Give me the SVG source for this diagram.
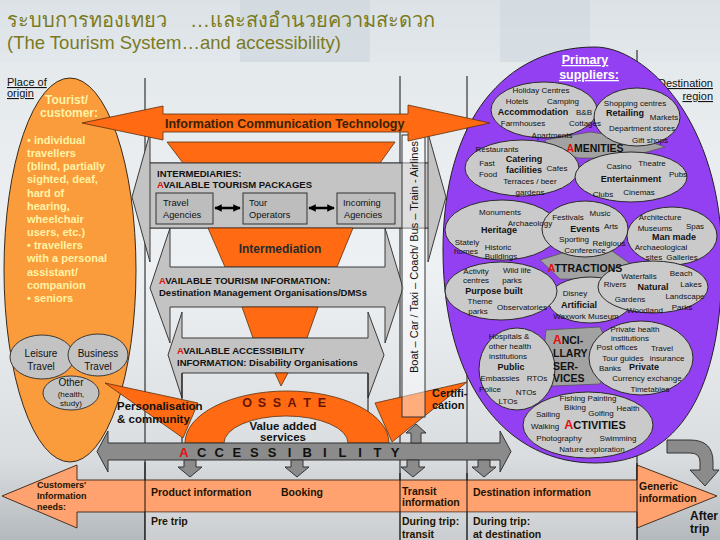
<svg xmlns="http://www.w3.org/2000/svg" width="720" height="540" viewBox="0 0 720 540">
<defs>
<linearGradient id="bg" x1="0" y1="0" x2="0" y2="1">
<stop offset="0" stop-color="#d3dbe0"/>
<stop offset="0.1" stop-color="#e4e9ec"/>
<stop offset="0.5" stop-color="#eef1f3"/>
<stop offset="0.85" stop-color="#d9dde0"/>
<stop offset="1" stop-color="#b4b9bd"/>
</linearGradient>
<marker id="ah" viewBox="0 0 10 10" refX="9" refY="5" markerWidth="3" markerHeight="3" orient="auto-start-reverse"><path d="M0,0 L10,5 L0,10 z" fill="#000"/></marker>
<style>
text{font-family:"Liberation Sans",Arial,sans-serif}
.s{font-size:8px;fill:#111;text-anchor:middle}
.sb{font-size:9px;font-weight:bold;fill:#111;text-anchor:middle}
.cat{font-size:10.5px;font-weight:bold;fill:#111;text-anchor:middle}
.r{fill:#e01010}
.ell{fill:#cacaca;stroke:#2a2a2a;stroke-width:1}
.dk{fill:#a2a2a2;stroke:#555;stroke-width:0.8}
.or{fill:#ff6a13;stroke:#5a3010;stroke-width:0.8}
.gr{fill:#c3c3c3;stroke:#3a3a3a;stroke-width:1}
.gbar{fill:#8b8b8b;stroke:#333;stroke-width:1}
.mid{font-size:9.5px;font-weight:bold;fill:#111}
.box{font-size:9.3px;fill:#111}
.tl{font-size:10.5px;font-weight:bold;fill:#241400}
.yel{font-size:11px;font-weight:bold;fill:#fff4a6}
.sm{font-size:10px;fill:#111;text-anchor:middle}
.ln{stroke:#111;stroke-width:1}
</style>
</defs>
<rect width="720" height="540" fill="url(#bg)"/>
<rect x="0" y="0" width="720" height="62" fill="#dfe6ea" opacity="0.7"/>
<rect x="240" y="0" width="130" height="62" fill="#c9d3da" opacity="0.5"/>
<rect x="500" y="0" width="90" height="62" fill="#c9d3da" opacity="0.4"/>

<g id="title">
<text x="7" y="27" font-family="'Noto Sans Thai','Noto Sans','DejaVu Sans',sans-serif" font-size="20" fill="#7b7a1e">ระบบการทองเทยว<tspan x="190">…และสงอำนวยความสะดวก</tspan></text>
<text x="7" y="49" font-size="18.5" fill="#7b7a1e">(The Tourism System…and accessibility)</text>
</g>

<g id="frame-lines" class="ln">
<line x1="145" y1="78" x2="145" y2="540"/>
<line x1="400" y1="76" x2="400" y2="540"/>
<line x1="467" y1="76" x2="467" y2="540"/>
<line x1="637" y1="50" x2="637" y2="540"/>
</g>

<g id="origin-label">
<text x="7" y="86" font-size="11" fill="#111" text-decoration="underline">Place of</text>
<text x="7" y="97" font-size="11" fill="#111" text-decoration="underline">origin</text>
</g>

<g id="tourist">
<ellipse cx="70" cy="270" rx="66" ry="192" fill="#fa9b3c" stroke="#3a2a1a"/>
<text x="45" y="104" font-size="12" font-weight="bold" fill="#fff4a6">Tourist/</text>
<text x="40" y="117" font-size="12" font-weight="bold" fill="#fff4a6">customer:</text>
<text class="yel" x="27" y="144">• individual</text>
<text class="yel" x="27" y="157">travellers</text>
<text class="yel" x="27" y="170">(blind, partially</text>
<text class="yel" x="27" y="183">sighted, deaf,</text>
<text class="yel" x="27" y="197">hard of</text>
<text class="yel" x="27" y="210">hearing,</text>
<text class="yel" x="27" y="223">wheelchair</text>
<text class="yel" x="27" y="236">users, etc.)</text>
<text class="yel" x="27" y="249">• travellers</text>
<text class="yel" x="27" y="262">with a personal</text>
<text class="yel" x="27" y="276">assistant/</text>
<text class="yel" x="27" y="289">companion</text>
<text class="yel" x="27" y="302">• seniors</text>
</g>
<g id="leisure"><ellipse class="gr" cx="42" cy="357" rx="32" ry="22"/><text class="sm" x="41" y="357">Leisure</text><text class="sm" x="41" y="370">Travel</text></g>
<g id="business"><ellipse class="gr" cx="98" cy="355" rx="30" ry="21"/><text class="sm" x="98" y="357">Business</text><text class="sm" x="98" y="370">Travel</text></g>
<g id="other"><ellipse class="gr" cx="71" cy="393" rx="28" ry="17"/><text class="sm" x="71" y="386">Other</text><text class="s" x="71" y="397">(health,</text><text class="s" x="71" y="406">study)</text></g>

<g id="destination-label">
<text x="713" y="87" font-size="11" fill="#111" text-anchor="end" text-decoration="underline">Destination</text>
<text x="713" y="100" font-size="11" fill="#111" text-anchor="end" text-decoration="underline">region</text>
</g>

<g id="primary-suppliers">
<path d="M595,47 C505,47 443,120 443,250 C443,390 510,463 595,463 C680,463 722,390 722,260 C722,120 645,47 595,47 Z" fill="#9340f2" stroke="#222"/>
<text x="585" y="64" font-size="12.5" font-weight="bold" fill="#fff" text-anchor="middle" text-decoration="underline">Primary</text>
<text x="589" y="79" font-size="12.5" font-weight="bold" fill="#fff" text-anchor="middle" text-decoration="underline">suppliers:</text>
</g>

<g id="amenities">
<polygon class="dk" points="545,140 590,132 645,140 665,147 625,158 578,158 548,148"/>
<ellipse class="ell" cx="544" cy="110" rx="53" ry="28"/>
<ellipse class="ell" cx="637" cy="117" rx="43" ry="29"/>
<ellipse class="ell" cx="522" cy="168" rx="57" ry="28"/>
<ellipse class="ell" cx="631" cy="177" rx="56" ry="25"/>
<text class="s" x="541" y="93">Holiday Centres</text>
<text class="s" x="517" y="104">Hotels</text>
<text class="s" x="563" y="104">Camping</text>
<text class="sb" x="533" y="115">Accommodation</text>
<text class="s" x="584" y="115">B&amp;B</text>
<text class="s" x="523" y="126">Farmhouses</text>
<text class="s" x="585" y="126">Cottages</text>
<text class="s" x="552" y="138">Apartments</text>
<text class="s" x="635" y="106">Shopping centres</text>
<text class="sb" x="625" y="116">Retailing</text>
<text class="s" x="664" y="120">Markets</text>
<text class="s" x="642" y="131">Department stores</text>
<text class="s" x="650" y="143">Gift shops</text>
<text class="cat" x="595" y="152"><tspan class="r">A</tspan>MENITIES</text>
<text class="s" x="497" y="152">Restaurants</text>
<text class="s" x="487" y="166">Fast</text>
<text class="s" x="488" y="177">Food</text>
<text class="sb" x="524" y="162">Catering</text>
<text class="sb" x="524" y="173">facilities</text>
<text class="s" x="557" y="171">Cafes</text>
<text class="s" x="530" y="184">Terraces / beer</text>
<text class="s" x="530" y="195">gardens</text>
<text class="s" x="619" y="169">Casino</text>
<text class="s" x="652" y="166">Theatre</text>
<text class="s" x="678" y="177">Pubs</text>
<text class="sb" x="631" y="182">Entertainment</text>
<text class="s" x="603" y="197">Clubs</text>
<text class="s" x="639" y="195">Cinemas</text>
</g>

<g id="attractions">
<polygon class="dk" points="540,260 575,249 612,251 632,265 612,279 560,279"/>
<ellipse class="ell" cx="502" cy="230" rx="57" ry="30"/>
<ellipse class="ell" cx="585" cy="229" rx="43" ry="28"/>
<ellipse class="ell" cx="672" cy="236" rx="45" ry="29"/>
<ellipse class="ell" cx="590" cy="300" rx="42" ry="23"/>
<ellipse class="ell" cx="501" cy="291" rx="56" ry="29"/>
<ellipse class="ell" cx="653" cy="287" rx="55" ry="26"/>
<text class="s" x="500" y="215">Monuments</text>
<text class="s" x="530" y="226">Archaeology</text>
<text class="sb" x="499" y="233">Heritage</text>
<text class="s" x="467" y="245">Stately</text>
<text class="s" x="466" y="254">homes</text>
<text class="s" x="498" y="250">Historic</text>
<text class="s" x="501" y="259">Buildings</text>
<text class="s" x="568" y="220">Festivals</text>
<text class="s" x="600" y="216">Music</text>
<text class="sb" x="585" y="232">Events</text>
<text class="s" x="611" y="229">Arts</text>
<text class="s" x="574" y="242">Sporting</text>
<text class="s" x="609" y="246">Religious</text>
<text class="s" x="585" y="253">Conference</text>
<text class="s" x="660" y="220">Architecture</text>
<text class="s" x="655" y="231">Museums</text>
<text class="s" x="695" y="229">Spas</text>
<text class="sb" x="674" y="240">Man made</text>
<text class="s" x="661" y="250">Archaeological</text>
<text class="s" x="654" y="260">sites</text>
<text class="s" x="682" y="260">Galleries</text>
<text class="cat" x="585" y="272"><tspan class="r">A</tspan>TTRACTIONS</text>
<text class="s" x="476" y="274">Activity</text>
<text class="s" x="476" y="283">centres</text>
<text class="s" x="517" y="273">Wild life</text>
<text class="s" x="512" y="283">parks</text>
<text class="sb" x="494" y="294">Purpose built</text>
<text class="s" x="480" y="304">Theme</text>
<text class="s" x="478" y="314">parks</text>
<text class="s" x="522" y="310">Observatories</text>
<text class="s" x="575" y="296">Disney</text>
<text class="sb" x="579" y="308">Artificial</text>
<text class="s" x="586" y="319">Waxwork Museum</text>
<text class="s" x="639" y="279">Waterfalls</text>
<text class="s" x="681" y="276">Beach</text>
<text class="s" x="615" y="287">Rivers</text>
<text class="sb" x="653" y="290">Natural</text>
<text class="s" x="691" y="287">Lakes</text>
<text class="s" x="630" y="302">Gardens</text>
<text class="s" x="685" y="299">Landscape</text>
<text class="s" x="645" y="313">Woodland</text>
<text class="s" x="682" y="310">Parks</text>
</g>

<g id="ancillary">
<polygon class="dk" points="546,330 600,327 608,345 600,384 552,386 543,360"/>
<ellipse class="ell" cx="517" cy="369" rx="38" ry="41"/>
<ellipse class="ell" cx="641" cy="358" rx="52" ry="37"/>
<ellipse class="ell" cx="588" cy="425" rx="65" ry="33"/>
<text class="s" x="509" y="339">Hospitals &amp;</text>
<text class="s" x="510" y="349">other health</text>
<text class="s" x="508" y="359">institutions</text>
<text class="sb" x="511" y="370">Public</text>
<text class="s" x="500" y="381">Embassies</text>
<text class="s" x="537" y="381">RTOs</text>
<text class="s" x="490" y="392">Police</text>
<text class="s" x="526" y="395">NTOs</text>
<text class="s" x="508" y="404">LTOs</text>
<text x="553" y="344" font-size="10.5" font-weight="bold" fill="#111"><tspan class="r" font-size="12">A</tspan>NCI-</text>
<text x="553" y="357" font-size="10.5" font-weight="bold" fill="#111">LLARY</text>
<text x="553" y="370" font-size="10.5" font-weight="bold" fill="#111">SER-</text>
<text x="553" y="382" font-size="10.5" font-weight="bold" fill="#111">VICES</text>
<text class="s" x="635" y="332">Private health</text>
<text class="s" x="630" y="341">institutions</text>
<text class="s" x="617" y="350">Post offices</text>
<text class="s" x="662" y="351">Travel</text>
<text class="s" x="623" y="361">Tour guides</text>
<text class="s" x="667" y="361">insurance</text>
<text class="s" x="610" y="371">Banks</text>
<text class="sb" x="644" y="370">Private</text>
<text class="s" x="647" y="381">Currency exchange</text>
<text class="s" x="650" y="392">Timetables</text>
<text class="s" x="588" y="401">Fishing Painting</text>
<text class="s" x="575" y="410">Biking</text>
<text class="s" x="601" y="416">Golfing</text>
<text class="s" x="628" y="411">Health</text>
<text class="s" x="548" y="417">Sailing</text>
<text class="s" x="545" y="429">Walking</text>
<text x="595" y="429" font-size="11" font-weight="bold" fill="#111" text-anchor="middle"><tspan class="r" font-size="12.5">A</tspan>CTIVITIES</text>
<text class="s" x="559" y="441">Photography</text>
<text class="s" x="618" y="441">Swimming</text>
<text class="s" x="592" y="452">Nature exploration</text>
</g>

<g id="intermediaries">
<polygon class="gr" points="132,197 150,133 150,163 428,163 428,133 446,197 428,262 428,228 150,228 150,262"/>
<polygon class="or" points="167,142 395,142 380,163 183,163"/>
<rect x="150" y="163" width="278" height="65" fill="#c4c4c4" stroke="#3a3a3a"/>
<text class="mid" x="157" y="177">INTERMEDIARIES:</text>
<text class="mid" x="157" y="188"><tspan class="r">A</tspan>VAILABLE TOURISM PACKAGES</text>
</g>
<g id="travel-agencies"><rect x="156" y="193" width="57" height="31" fill="#bdbdbd" stroke="#333"/><text class="box" x="163" y="206">Travel</text><text class="box" x="163" y="218">Agencies</text></g>
<g id="tour-operators"><rect x="243" y="193" width="64" height="31" fill="#bdbdbd" stroke="#333"/><text class="box" x="249" y="206">Tour</text><text class="box" x="249" y="218">Operators</text></g>
<g id="incoming-agencies"><rect x="337" y="193" width="58" height="31" fill="#bdbdbd" stroke="#333"/><text class="box" x="343" y="206">Incoming</text><text class="box" x="344" y="218">Agencies</text></g>

<g id="intermediation">
<polygon class="or" points="208,228 353,228 337,267 225,267"/>
<text x="280" y="253" font-size="12" font-weight="bold" fill="#2a2a2a" text-anchor="middle">Intermediation</text>
</g>

<g id="tourism-information">
<polygon class="gr" points="150,288 170,228 170,267 385,267 385,228 403,288 385,343 385,307 170,307 170,343"/>
<text class="mid" x="159" y="284"><tspan class="r">A</tspan>VAILABLE TOURISM INFORMATION:</text>
<text class="mid" x="159" y="296">Destination Management Organisations/DMSs</text>
</g>
<polygon class="or" points="242,307 318,307 307,338 253,338"/>

<g id="accessibility-information">
<polygon class="gr" points="168,355 182,312 182,338 368,338 368,312 384,355 368,398 368,373 182,373 182,398"/>
<text class="mid" x="177" y="354"><tspan class="r">A</tspan>VAILABLE ACCESSIBILITY</text>
<text class="mid" x="177" y="366">INFORMATION: Disability Organisations</text>
</g>
<polygon class="or" points="275,373 288,373 281,386"/>
<g class="ln"><line x1="182" y1="373" x2="182" y2="443"/><line x1="368" y1="373" x2="368" y2="443"/></g>

<g id="ossate">
<path class="or" d="M185,443 A102,52 0 0 1 389,443 L348,443 A62,27 0 0 0 224,443 Z"/>
<text font-size="12.5" font-weight="bold" fill="#6a1500" text-anchor="middle" x="247 254.5 262 269.5 277 284.5 292 299.5 307 314.5 322" y="407">O S S A T E</text>
<text x="283" y="430" font-size="11.5" font-weight="bold" fill="#111" text-anchor="middle">Value added</text>
<text x="283" y="441" font-size="11.5" font-weight="bold" fill="#111" text-anchor="middle">services</text>
</g>

<g id="personalisation">
<polygon class="or" points="105,383 198,403 183,438"/>
<text x="117" y="410" font-size="11.5" font-weight="bold" fill="#111">Personalisation</text>
<text x="117" y="423" font-size="11.5" font-weight="bold" fill="#111">&amp; community</text>
</g>

<g id="certification">
<polygon class="or" points="467,382 375,403 392,442"/>
<text x="432" y="397" font-size="11" font-weight="bold" fill="#111">Certifi-</text>
<text x="432" y="409" font-size="11" font-weight="bold" fill="#111">cation</text>
</g>

<g id="transport">
<rect x="402" y="135" width="23" height="282" fill="#ffffff" fill-opacity="0.45" stroke="#333"/>
<text transform="translate(418,257) rotate(-90)" font-size="11" fill="#111" text-anchor="middle">Boat – Car / Taxi – Coach/ Bus – Train - Airlines</text>
</g>

<g id="ict">
<polygon class="or" points="82,123 163,106 163,114 408,114 408,105 490,123 408,141 408,132 163,132 163,140"/>
<text x="165" y="127.5" font-size="12.5" font-weight="bold" fill="#3a2200">Information Communication Technology</text>
</g>

<g id="accessibility">
<polygon class="gbar" points="97,451.5 108,431 108,443 500,443 500,431 511,451.5 500,472 500,460 108,460 108,472"/>
<text font-size="13" font-weight="bold" fill="#111" text-anchor="middle" x="184 192.8 201.6 210.4 219.2 228 236.8 245.6 254.4 263.2 272 280.8 289.6 298.4 307.2 316 324.8 333.6 342.4 351.2 360 368.8 377.6 386.4 395.2" y="457"><tspan class="r">A</tspan> C C E S S I B I L I T Y</text>
</g>

<g id="connectors">
<line x1="215" y1="208" x2="240" y2="208" stroke="#000" stroke-width="2.5" marker-start="url(#ah)" marker-end="url(#ah)"/>
<line x1="309" y1="208" x2="334" y2="208" stroke="#000" stroke-width="2.5" marker-start="url(#ah)" marker-end="url(#ah)"/>
<polygon class="gbar" points="184,460 196,460 196,467 202,467 190,477 178,467 184,467"/>
<polygon class="gbar" points="291,460 303,460 303,467 309,467 297,477 285,467 291,467"/>
<polygon class="gbar" points="407,460 419,460 419,467 425,467 413,477 401,467 407,467"/>
<polygon class="gbar" points="478,460 490,460 490,467 496,467 484,477 472,467 478,467"/>
<polygon class="gbar" points="416,424 426,433 421,433 421,443 411,443 411,433 406,433"/>
<path class="gbar" d="M667,440 L690,440 Q713,440 713,462 L713,470 L719,470 L705,486 L690,470 L700,470 L700,462 Q700,453 690,453 L667,453 Z"/>
</g>

<g id="timeline">
<polygon points="2,496 77,465 77,480 637,480 637,465 717,496 637,528 637,512 77,512 77,528" fill="#ffa26f" stroke="#4a3020"/>
<rect x="145" y="512" width="492" height="28" fill="#ffffff" opacity="0.3"/>
<g class="ln"><line x1="145" y1="462" x2="145" y2="540"/><line x1="400" y1="473" x2="400" y2="540"/><line x1="467" y1="473" x2="467" y2="540"/><line x1="637" y1="463" x2="637" y2="540"/></g>
<text x="37" y="488" font-size="9" font-weight="bold" fill="#241400">Customers'</text>
<text x="37" y="499" font-size="9" font-weight="bold" fill="#241400">Information</text>
<text x="37" y="510" font-size="9" font-weight="bold" fill="#241400">needs:</text>
<text class="tl" x="151" y="496">Product information</text>
<text class="tl" x="281" y="496">Booking</text>
<text class="tl" x="402" y="495">Transit</text>
<text class="tl" x="402" y="506">information</text>
<text class="tl" x="473" y="496">Destination information</text>
<text class="tl" x="639" y="490">Generic</text>
<text class="tl" x="639" y="502">information</text>
<text class="tl" x="151" y="525">Pre trip</text>
<text class="tl" x="402" y="525">During trip:</text>
<text class="tl" x="402" y="538">transit</text>
<text class="tl" x="473" y="525">During trip:</text>
<text class="tl" x="473" y="538">at destination</text>
<text x="690" y="520" font-size="12" font-weight="bold" fill="#111">After</text>
<text x="690" y="533" font-size="12" font-weight="bold" fill="#111">trip</text>
</g>
</svg>
